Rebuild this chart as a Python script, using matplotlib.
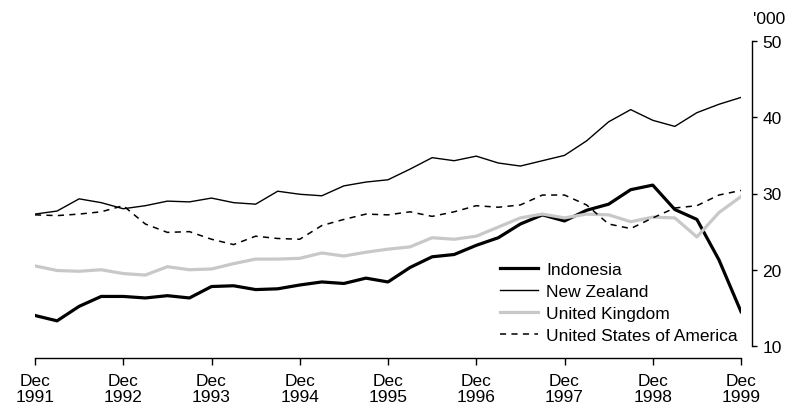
import matplotlib
matplotlib.use("Agg")
import matplotlib.pyplot as plt
from matplotlib.transforms import offset_copy

plt.rcParams['font.family'] = ['Liberation Sans', 'DejaVu Sans']

# Quarterly observations, Dec 1991 .. Dec 1999 ('000)
months = list(range(0, 97, 3))
indonesia = [14.0, 13.3, 15.2, 16.5, 16.5, 16.3, 16.6, 16.3, 17.8, 17.9, 17.4, 17.5,
             18.0, 18.4, 18.2, 18.9, 18.4, 20.3, 21.7, 22.0, 23.2, 24.2, 26.0, 27.2,
             26.4, 27.8, 28.6, 30.5, 31.1, 27.9, 26.6, 21.3, 14.5]
new_zealand = [27.3, 27.7, 29.3, 28.8, 28.0, 28.4, 29.0, 28.9, 29.4, 28.8, 28.6, 30.3,
               29.9, 29.7, 31.0, 31.5, 31.8, 33.2, 34.7, 34.3, 34.9, 34.0, 33.6, 34.3,
               35.0, 36.9, 39.4, 41.0, 39.6, 38.8, 40.6, 41.7, 42.6]
united_kingdom = [20.5, 19.9, 19.8, 20.0, 19.5, 19.3, 20.4, 20.0, 20.1, 20.8, 21.4, 21.4,
                  21.5, 22.2, 21.8, 22.3, 22.7, 23.0, 24.2, 24.0, 24.4, 25.6, 26.8, 27.3,
                  26.8, 27.3, 27.2, 26.3, 26.9, 26.8, 24.3, 27.5, 29.6]
united_states = [27.2, 27.1, 27.3, 27.6, 28.4, 26.0, 24.9, 25.0, 24.0, 23.3, 24.4, 24.1,
                 24.0, 25.8, 26.6, 27.3, 27.2, 27.6, 27.0, 27.6, 28.4, 28.2, 28.5, 29.8,
                 29.8, 28.5, 26.0, 25.4, 26.8, 28.1, 28.4, 29.8, 30.4]

tick_months = list(range(0, 97, 12))
tick_labels = ["Dec\n%d" % y for y in range(1991, 2000)]
y_ticks = [10, 20, 30, 40, 50]

fig = plt.figure(figsize=(7.92, 4.10), dpi=100)
ax = fig.add_axes([35/792, 63/410, 706/792, 305/410])

ax.plot(months, indonesia, color='black', lw=2.3, label='Indonesia', solid_joinstyle='round')
ax.plot(months, new_zealand, color='black', lw=1.0, label='New Zealand', solid_joinstyle='round')
ax.plot(months, united_kingdom, color='#c8c8c8', lw=2.3, label='United Kingdom', solid_joinstyle='round')
ax.plot(months, united_states, color='black', lw=1.1, ls=(0, (4, 3.5)),
        label='United States of America')

ax.set_xlim(0, 96)
ax.set_ylim(10, 50)

for s in ['left', 'top']:
    ax.spines[s].set_visible(False)
ax.spines['bottom'].set_position(('outward', 8.6))
ax.spines['right'].set_position(('outward', 7.9))
ax.spines['bottom'].set_linewidth(1.0)
ax.spines['right'].set_linewidth(1.0)

ax.yaxis.tick_right()
ax.set_yticks(y_ticks)
ax.set_xticks(tick_months)
ax.set_xticklabels(tick_labels, linespacing=1.1)
ax.tick_params(axis='x', direction='out', length=5, width=1.0, labelsize=12.5, pad=6)
ax.tick_params(axis='y', direction='out', length=3.5, width=1.0, labelsize=12.5, pad=4)

tr = offset_copy(ax.transAxes, fig=fig, x=12, y=0, units='dots')
ax.text(1.0, (410 - 20 - 63) / 305, "'000", transform=tr, fontsize=12.5,
        ha='left', va='center')

leg = ax.legend(loc='lower left', bbox_to_anchor=(458/706, -0.012), frameon=False,
                fontsize=12.5, handlelength=2.2, handletextpad=0.45, labelspacing=0.39,
                borderaxespad=0)

fig.savefig('out.png', dpi=100)
